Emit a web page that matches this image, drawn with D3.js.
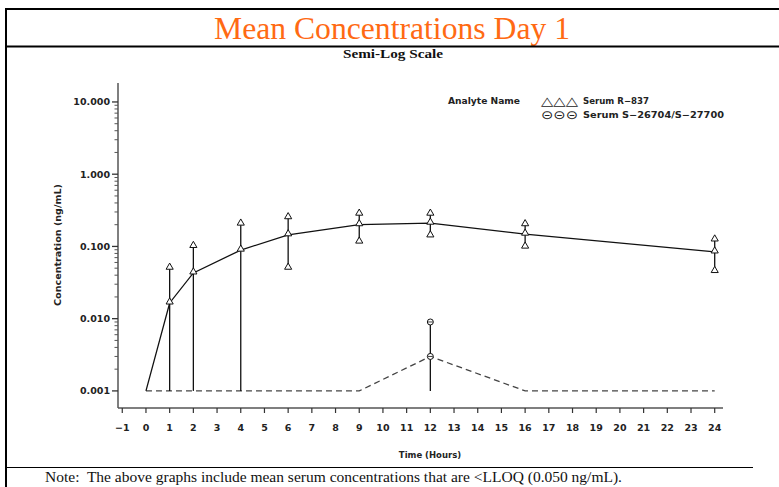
<!DOCTYPE html>
<html><head><meta charset="utf-8">
<script src="https://cdn.jsdelivr.net/npm/d3@7"></script>
<style>body{margin:0;background:#fff}svg{display:block}</style>
</head><body>
<svg id="c" width="779" height="487"></svg>
<script>
const times = [0, 1, 2, 4, 6, 9, 12, 16, 24];
const r837Mean  = [0.001, 0.0165, 0.043, 0.089, 0.145, 0.20, 0.21, 0.148, 0.084];
const r837Upper = [null, 0.050, 0.100, 0.204, 0.25, 0.28, 0.28, 0.20, 0.123];
const r837Lower = [null, 0.001, 0.001, 0.001, 0.050, 0.115, 0.14, 0.098, 0.045];
const sMean  = [0.001, 0.001, 0.001, 0.001, 0.001, 0.001, 0.003, 0.001, 0.001];
const sUpper = [null, null, null, null, null, null, 0.009, null, null];
const sLower = [null, null, null, null, null, null, 0.001, null, null];
const xTicks = d3.range(-1, 25);
const yTicks = [0.001, 0.01, 0.1, 1, 10];
const yTickLabels = ["0.001", "0.010", "0.100", "1.000", "10.000"];

const svg = d3.select("#c");
const sans = "DejaVu Sans, Verdana, sans-serif";
const serif = "Liberation Serif, Times New Roman, serif";

// frame
svg.append("line").attr("x1",5).attr("x2",779).attr("y1",9).attr("y2",9).attr("stroke","#000").attr("stroke-width",2);
svg.append("line").attr("x1",6).attr("x2",6).attr("y1",8).attr("y2",487).attr("stroke","#000").attr("stroke-width",2);
svg.append("text").attr("x",392).attr("y",39).attr("text-anchor","middle")
  .attr("font-family",serif).attr("font-size",32).attr("fill","#FF6A13")
  .attr("textLength",356).attr("lengthAdjust","spacingAndGlyphs").text("Mean Concentrations Day 1");
svg.append("text").attr("x",393).attr("y",58).attr("text-anchor","middle")
  .attr("font-family",serif).attr("font-weight","bold").attr("font-size",13).attr("fill","#111")
  .attr("textLength",100).attr("lengthAdjust","spacingAndGlyphs").text("Semi-Log Scale");
svg.append("line").attr("x1",5).attr("x2",779).attr("y1",46.5).attr("y2",46.5).attr("stroke","#000").attr("stroke-width",2);

const x = d3.scaleLinear().domain([-1.18, 24.35]).range([118, 723]);
const y = d3.scaleLog().domain([0.00058, 18.3]).range([408, 83]);

// y axis
const yAxis = svg.append("g");
yAxis.append("line").attr("x1",118).attr("x2",118).attr("y1",83).attr("y2",408).attr("stroke","#555").attr("stroke-width",1.5);
const minor = [];
for (const d of [0.001,0.01,0.1,1,10]) for (let k=2;k<=9;k++) if (d*k<=18) minor.push(d*k);
yAxis.selectAll(".mn").data(minor).join("line").attr("x1",114.5).attr("x2",118).attr("y1",d=>y(d)).attr("y2",d=>y(d)).attr("stroke","#555");
yAxis.selectAll(".mj").data(yTicks).join("line").attr("x1",112).attr("x2",118).attr("y1",d=>y(d)).attr("y2",d=>y(d)).attr("stroke","#333").attr("stroke-width",1.3);
yAxis.selectAll(".tl").data(yTicks).join("text").attr("x",110).attr("y",d=>y(d)+3.5).attr("text-anchor","end")
  .attr("font-family",sans).attr("font-weight","bold").attr("font-size",9.5).attr("fill","#222").text((d,i)=>yTickLabels[i]);
svg.append("text").attr("transform","translate(61,245) rotate(-90)").attr("text-anchor","middle")
  .attr("font-family",sans).attr("font-weight","bold").attr("font-size",8.5).attr("fill","#222")
  .attr("textLength",122).attr("lengthAdjust","spacingAndGlyphs").text("Concentration (ng/mL)");

// x axis
const xAxis = svg.append("g");
xAxis.append("line").attr("x1",118).attr("x2",723).attr("y1",408).attr("y2",408).attr("stroke","#555").attr("stroke-width",1.5);
xAxis.selectAll(".xt").data(xTicks).join("line").attr("x1",d=>x(d)).attr("x2",d=>x(d)).attr("y1",408).attr("y2",413).attr("stroke","#333").attr("stroke-width",1.2);
xAxis.selectAll(".xl").data(xTicks).join("text").attr("x",d=>x(d)).attr("y",431).attr("text-anchor","middle")
  .attr("font-family",sans).attr("font-weight","bold").attr("font-size",9.5).attr("fill","#222").text(d=>d<0?"\u2212"+Math.abs(d):d);
svg.append("text").attr("x",430).attr("y",458).attr("text-anchor","middle")
  .attr("font-family",sans).attr("font-weight","bold").attr("font-size",8.5).attr("fill","#222").text("Time (Hours)");

// S series (dashed)
const line = d3.line().x(d=>x(d[0])).y(d=>y(d[1]));
svg.append("path").attr("d", line(times.map((t,i)=>[t,sMean[i]]))).attr("fill","none")
  .attr("stroke","#444").attr("stroke-width",1.3).attr("stroke-dasharray","6,4");

// error bars
times.forEach((t,i)=>{
  if (r837Upper[i]!==null) {
    svg.append("line").attr("x1",x(t)).attr("x2",x(t)).attr("y1",y(r837Lower[i])).attr("y2",y(r837Upper[i]))
      .attr("stroke","#111").attr("stroke-width",1.3);
  }
  if (sUpper[i]!==null) {
    svg.append("line").attr("x1",x(t)).attr("x2",x(t)).attr("y1",y(sLower[i])).attr("y2",y(sUpper[i]))
      .attr("stroke","#111").attr("stroke-width",1.3);
  }
});
// R-837 mean line
svg.append("path").attr("d", line(times.map((t,i)=>[t,r837Mean[i]]))).attr("fill","none")
  .attr("stroke","#111").attr("stroke-width",1.3);

const tri = d3.symbol().type(d3.symbolTriangle).size(22);
function triangle(t,v){
  svg.append("path").attr("d",tri()).attr("transform",`translate(${x(t)},${y(v)-1})`)
    .attr("fill","#fff").attr("stroke","#111").attr("stroke-width",1);
}
times.forEach((t,i)=>{
  if (i>0) triangle(t, r837Mean[i]);
  if (r837Upper[i]!==null) triangle(t, r837Upper[i]);
  if (r837Lower[i]!==null && r837Lower[i]>0.001) triangle(t, r837Lower[i]);
});
function circ(t,v){
  svg.append("circle").attr("cx",x(t)).attr("cy",y(v)).attr("r",3).attr("fill","#fff").attr("stroke","#111").attr("stroke-width",1);
  svg.append("line").attr("x1",x(t)-2.5).attr("x2",x(t)+2.5).attr("y1",y(v)).attr("y2",y(v)).attr("stroke","#111").attr("stroke-width",0.8);
}
times.forEach((t,i)=>{
  if (sMean[i]>0.001) circ(t, sMean[i]);
  if (sUpper[i]!==null) circ(t, sUpper[i]);
});

// legend
const lg = svg.append("g").attr("font-family",sans).attr("font-weight","bold").attr("font-size",8.5).attr("fill","#222");
lg.append("text").attr("x",448).attr("y",104).attr("textLength",72).attr("lengthAdjust","spacingAndGlyphs").text("Analyte Name");
lg.append("text").attr("x",541).attr("y",104.5).attr("font-size",12).attr("font-weight","normal")
  .attr("textLength",37).attr("lengthAdjust","spacingAndGlyphs").text("\u25B3\u25B3\u25B3");
lg.append("text").attr("x",583).attr("y",104).attr("textLength",66).attr("lengthAdjust","spacingAndGlyphs").text("Serum R\u2212837");
lg.append("text").attr("x",541).attr("y",118.5).attr("font-size",12).attr("font-weight","normal")
  .attr("textLength",37).attr("lengthAdjust","spacingAndGlyphs").text("\u229D\u229D\u229D");
lg.append("text").attr("x",583).attr("y",118).attr("textLength",141).attr("lengthAdjust","spacingAndGlyphs").text("Serum S\u221226704/S\u221227700");

// note
svg.append("line").attr("x1",6).attr("x2",753).attr("y1",467.5).attr("y2",467.5).attr("stroke","#000").attr("stroke-width",1.2);
svg.append("text").attr("x",45).attr("y",482).attr("font-family",serif).attr("font-size",14.5).attr("fill","#111")
  .attr("textLength",577).attr("lengthAdjust","spacingAndGlyphs")
  .text("Note:\u00A0 The above graphs include mean serum concentrations that are <LLOQ (0.050 ng/mL).");
</script>
</body></html>
